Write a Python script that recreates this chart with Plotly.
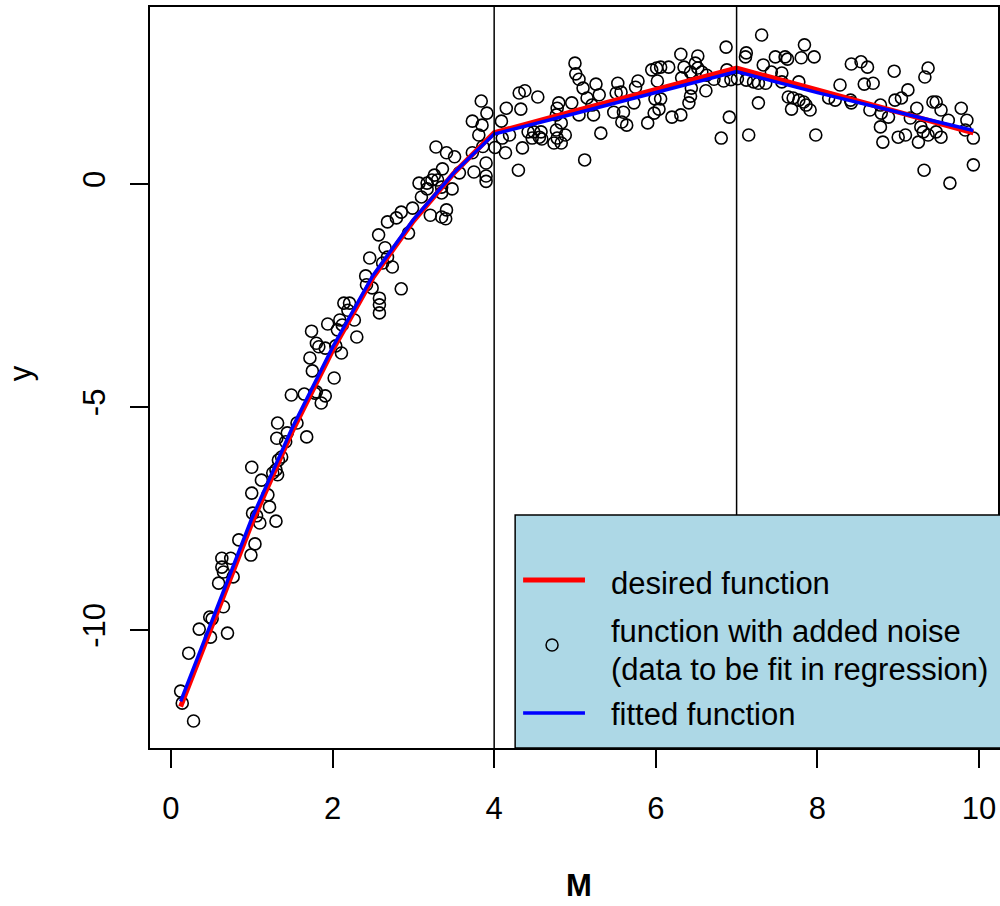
import plotly.graph_objects as go

# ---- data ----
noise_x = [
    0.12, 0.14, 0.28, 0.22, 0.35, 0.48, 0.51, 0.49, 0.70, 0.59, 0.65, 0.63, 0.74, 0.63, 0.65, 0.77, 0.84, 0.99, 1.04,
    1.00, 1.00, 1.01, 1.06, 1.10, 1.30, 1.12, 1.20, 1.22, 1.26, 1.30, 1.32, 1.33, 1.37, 1.42, 1.31, 1.44, 1.32, 1.56,
    1.68, 1.49, 1.65, 1.78, 1.91, 1.86,
    1.80, 2.02, 1.75, 1.72, 2.11, 1.80, 1.83, 1.91, 2.04, 2.30, 1.74, 2.06, 1.94, 2.12, 2.09, 2.27, 2.14, 2.21, 2.19,
    2.58, 2.58, 2.58, 2.85, 2.42, 2.49, 2.41, 2.46, 2.62, 2.74, 2.68, 2.65, 2.57, 2.94, 2.68, 2.79, 2.85, 2.99, 3.21,
    3.41, 3.35, 3.40, 3.10, 3.35, 3.17, 3.35, 3.48, 3.07, 3.17, 3.23, 3.30, 3.26, 3.36, 3.57, 3.51, 3.41, 3.28, 3.73,
    3.90, 3.75, 3.90, 3.90, 3.81, 4.01, 4.14, 3.86,
    3.84, 3.91, 3.73, 3.85,
    4.09, 4.31, 4.38, 4.54, 4.15, 4.33, 4.80, 4.78, 4.96, 5.21, 5.23, 5.48, 5.05, 4.77, 4.83, 4.42, 4.49, 4.58, 4.47,
    4.56, 4.59, 4.77, 4.78, 4.88, 4.83, 4.74, 5.32, 4.19, 4.10, 4.35, 4.30, 5.12, 5.00, 5.01, 5.05, 5.10, 5.26, 5.30,
    5.15, 5.53, 5.51,
    6.87, 6.31, 6.52, 6.35, 6.49, 6.52, 6.43, 6.57, 6.63, 5.95, 6.01, 6.06, 6.16, 6.02, 6.32, 6.88, 6.84, 6.72, 6.93,
    7.01, 5.57, 5.78, 5.75, 6.62, 6.44, 6.43, 6.41, 5.73, 5.99, 6.06, 6.04, 5.98, 5.60, 5.58, 5.64, 5.90, 6.20, 6.31,
    6.91, 6.81,
    7.31, 7.84, 7.12, 7.11, 7.48, 7.60, 7.63, 7.80, 7.96, 7.33, 8.42, 7.43, 7.56, 7.12, 7.21, 7.27, 7.36, 7.56, 7.77,
    7.64, 7.70, 7.77, 7.83, 7.86, 7.91, 7.68, 7.27, 8.14, 8.22, 8.28, 8.41, 7.15, 7.98,
    8.54, 8.62, 8.95, 9.37, 9.33, 8.58, 8.69, 9.12, 8.42, 8.65, 8.78, 8.79, 8.88, 8.78, 8.96, 9.04, 9.43, 9.47, 9.23,
    9.15, 9.53, 9.62, 9.78, 9.85, 9.83, 9.28, 9.31, 9.37, 9.47, 9.53, 9.00, 9.09, 8.81, 9.25, 9.93, 9.32, 9.64, 9.93,
]
noise_y = [
    -11.37, -11.64, -12.04, -10.52, -9.98, -9.71, -9.75, -10.16, -10.07, -8.95, -9.48, -8.39, -8.39, -8.59, -8.70,
    -8.81, -7.98, -8.32, -8.07,
    -6.35, -6.93, -7.38, -7.44, -7.60, -7.56, -6.64, -6.97, -7.24, -6.48, -6.41, -6.52, -6.19, -6.12, -5.78, -5.70,
    -5.58, -5.36, -5.36, -5.67, -4.73, -4.71, -4.69, -4.75, -4.91,
    -4.66, -4.35, -4.19, -3.90, -3.79, -3.57, -3.65, -3.68, -3.63, -3.43, -3.30, -3.27, -3.14, -3.16, -3.05, -3.05,
    -2.67, -2.67, -2.83, -2.56, -2.71, -2.89, -2.35, -2.26, -2.33, -2.06, -1.66, -1.77, -1.86, -1.64, -1.43, -1.14,
    -1.10, -0.85, -0.76, -0.63, -0.54, -0.70, -0.58, -0.74, -0.78, -0.29, -0.20, -0.11, -0.07, -0.11, 0.02, 0.02,
    0.09, 0.09, 0.20, 0.34, 0.25, 0.61, 0.70, 0.83, 0.70, 0.47, 0.27, 0.18, 0.06, 1.10, 0.82, 0.70, 0.84,
    1.86, 1.59, 1.41, 1.32,
    1.41, 2.04, 2.09, 1.95, 1.70, 1.68, 1.82, 1.70, 1.82, 1.77, 1.55, 1.61, 1.55, 1.55, 1.37, 1.17, 1.17, 1.17, 1.03,
    1.05, 1.01, 1.21, 1.03, 1.10, 0.92, 0.92, 1.14, 1.10, 1.03, 0.81, 0.31, 0.54, 2.71, 2.47, 2.35, 2.15, 2.24, 2.00,
    1.93, 2.26, 2.04,
    3.07, 2.91, 2.87, 2.62, 2.71, 2.60, 2.51, 2.51, 2.44, 2.56, 2.60, 2.62, 2.62, 2.31, 2.38, 2.56, 2.31, 2.35, 2.34,
    2.36, 2.06, 2.31, 2.17, 2.09, 2.15, 1.97, 1.82, 1.82, 1.91, 1.91, 1.68, 1.59, 1.61, 1.39, 1.32, 1.37, 1.50, 1.55,
    1.50, 1.03,
    3.34, 3.12, 2.94, 2.85, 2.85, 2.85, 2.80, 2.83, 2.85, 2.67, 2.69, 2.51, 2.49, 2.33, 2.29, 2.26, 2.26, 2.29, 2.29,
    1.95, 1.93, 1.88, 1.84, 1.77, 1.66, 1.68, 1.82, 1.93, 1.88, 2.22, 1.88, 1.10, 1.10,
    2.74, 2.62, 2.53, 2.60, 2.40, 2.24, 2.26, 2.11, 1.82, 1.66, 1.77, 1.59, 1.50, 1.28, 1.88, 1.93, 1.84, 1.84, 1.70,
    1.48, 1.66, 1.43, 1.70, 1.43, 1.21, 1.28, 1.17, 1.10, 1.17, 1.05, 1.05, 1.10, 0.94, 0.94, 1.03, 0.31, 0.02, 0.43,
]

desired_x = [0.12, 0.5, 1.0, 1.5, 2.0, 2.5, 3.0, 3.5, 4.0, 5.0, 6.0, 7.0, 8.0, 9.0, 9.93]
desired_y = [-11.72, -9.95, -7.61, -5.55, -3.73, -2.10, -0.83, 0.24, 1.15, 1.64, 2.12, 2.60, 2.11, 1.62, 1.15]

fitted_x = [0.12, 0.5, 1.0, 1.5, 2.0, 2.5, 3.0, 3.5, 4.0, 5.0, 6.0, 7.0, 8.0, 9.0, 9.93]
fitted_y = [-11.60, -9.82, -7.50, -5.47, -3.66, -2.05, -0.80, 0.25, 1.12, 1.58, 2.05, 2.52, 2.05, 1.60, 1.20]

knot_lines = [4, 7]
x_ticks = [0, 2, 4, 6, 8, 10]
y_ticks = [-10, -5, 0]

legend_labels = ["desired function", "function with added noise", "(data to be fit in regression)", "fitted function"]

FONT = "Liberation Sans, Arial, sans-serif"
FS = 31

W, H = 1000, 906
L, R, T, B = 150, 0, 7, 158
PW, PH = W - L - R, H - T - B


def px(xp):
    return (xp - L) / PW


def py(yp):
    return (H - B - yp) / PH


fig = go.Figure()
fig.add_trace(go.Scatter(x=noise_x, y=noise_y, mode="markers", showlegend=False,
                         marker=dict(symbol="circle-open", size=12, color="black",
                                     line=dict(width=1.6, color="black"))))
fig.add_trace(go.Scatter(x=desired_x, y=desired_y, mode="lines", showlegend=False,
                         line=dict(color="red", width=5)))
fig.add_trace(go.Scatter(x=fitted_x, y=fitted_y, mode="lines", showlegend=False,
                         line=dict(color="blue", width=3.5)))

shapes = []
for k in knot_lines:
    shapes.append(dict(type="line", xref="x", yref="paper", x0=k, x1=k, y0=0, y1=1,
                       line=dict(color="black", width=1.5), layer="above"))
# legend box
shapes.append(dict(type="rect", xref="paper", yref="paper", x0=px(516), x1=px(1010), y0=0, y1=py(515),
                   fillcolor="#ADD8E6", line=dict(color="black", width=1.5), layer="above"))
shapes.append(dict(type="line", xref="paper", yref="paper", x0=px(524), x1=px(586), y0=py(580), y1=py(580),
                   line=dict(color="red", width=5), layer="above"))
shapes.append(dict(type="line", xref="paper", yref="paper", x0=px(524), x1=px(586), y0=py(713), y1=py(713),
                   line=dict(color="blue", width=3.5), layer="above"))
shapes.append(dict(type="circle", xref="paper", yref="paper", xsizemode="pixel", ysizemode="pixel",
                   xanchor=px(553), yanchor=py(645), x0=-6, x1=6, y0=-6, y1=6,
                   line=dict(color="black", width=1.5), layer="above"))

annotations = []
for txt, yp in zip(legend_labels, [583, 631, 669, 714]):
    annotations.append(dict(text=txt, xref="paper", yref="paper", x=px(610), y=py(yp),
                            xanchor="left", yanchor="middle", showarrow=False,
                            font=dict(family=FONT, size=FS, color="black")))
annotations.append(dict(text="<b>M</b>", xref="paper", yref="paper", x=px(580), y=py(885),
                        xanchor="center", yanchor="middle", showarrow=False,
                        font=dict(family=FONT, size=FS, color="black")))
annotations.append(dict(text="y", xref="paper", yref="paper", x=px(20), y=py(373),
                        xanchor="center", yanchor="middle", showarrow=False, textangle=-90,
                        font=dict(family=FONT, size=FS, color="black")))

fig.update_layout(
    width=W, height=H, margin=dict(l=L, r=R, t=T, b=B, pad=0),
    paper_bgcolor="white", plot_bgcolor="white",
    font=dict(family=FONT, size=FS, color="black"),
    showlegend=False, shapes=shapes, annotations=annotations,
    xaxis=dict(range=[-0.259, 10.235], tickvals=x_ticks, ticktext=[str(v) for v in x_ticks],
               ticks="outside", ticklen=18, tickwidth=1.5, tickcolor="black",
               showline=True, mirror=True, linecolor="black", linewidth=1.5,
               showgrid=False, zeroline=False, ticklabelstandoff=14,
               tickfont=dict(family=FONT, size=FS, color="black")),
    yaxis=dict(range=[-12.646, 3.969], tickvals=y_ticks, ticktext=[str(v) for v in y_ticks],
               ticks="outside", ticklen=18, tickwidth=1.5, tickcolor="black", tickangle=-90,
               showline=True, mirror=True, linecolor="black", linewidth=1.5,
               showgrid=False, zeroline=False, ticklabelstandoff=13,
               tickfont=dict(family=FONT, size=FS, color="black")),
)

fig.write_html("out.html", config={"displayModeBar": False},
               post_script="document.body.style.margin='0';document.body.style.padding='0';"
                           "document.documentElement.style.overflow='hidden';")
